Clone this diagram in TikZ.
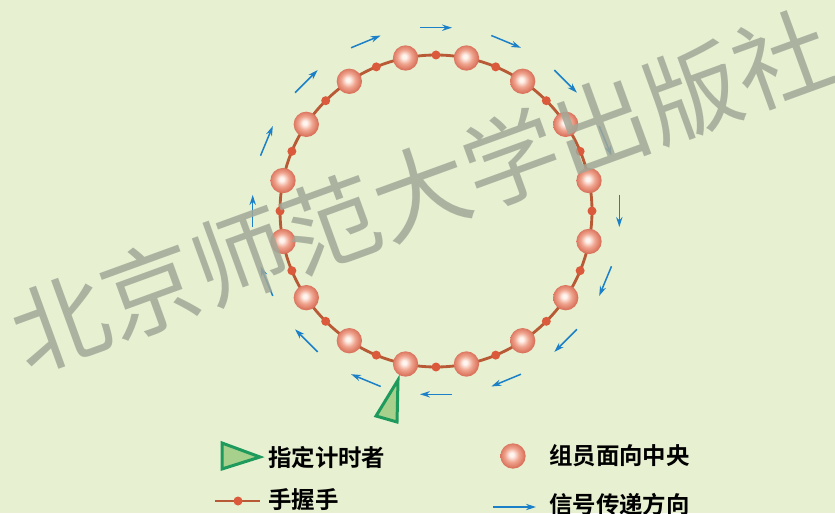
\documentclass[tikz,border=0pt]{standalone}
\usepackage{fontspec}
\newfontfamily\cjk{Noto Sans CJK SC}
\newfontfamily\cjkbf{Noto Sans CJK SC Bold}
\usepackage{tikz}
\usetikzlibrary{arrows.meta}
\usepackage{xcolor}

\definecolor{bgcol}{HTML}{E7F1D1}
\definecolor{ropecol}{HTML}{B85A35}
\definecolor{handcol}{HTML}{DB5A3C}
\definecolor{sphedge}{HTML}{D9705A}
\definecolor{sphmid}{HTML}{EFA48E}
\definecolor{sphhi}{HTML}{FFF4EE}
\definecolor{sigcol}{HTML}{1B80C8}
\definecolor{timerfill}{HTML}{A6D08C}
\definecolor{timerline}{HTML}{1E9A5C}
\definecolor{markcol}{HTML}{A2A898}

\pgfdeclareradialshading{pearl}{\pgfpoint{-3bp}{3bp}}{%
  color(0bp)=(sphhi); color(4bp)=(sphhi); color(14bp)=(sphmid);
  color(25bp)=(sphedge); color(50bp)=(sphedge)}

\begin{document}
\begin{tikzpicture}[x=0.3mm, y=0.3mm,
  every node/.style={font=\cjkbf\fontsize{20}{24}\selectfont},
  rope/.style={draw=ropecol, line width=0.85mm},
  member/.style={circle, inner sep=0pt, minimum size=7.6mm, shading=pearl},
  hand/.style={circle, inner sep=0pt, minimum size=2.7mm, fill=handcol},
  signal/.style={draw=sigcol, line width=0.45mm, -{Stealth[length=3mm, width=1.9mm]}},
  timer/.style={draw=timerline, fill=timerfill, line width=0.9mm, line join=miter}]
  \fill[bgcol] (0,0) rectangle (835,513);
  \useasboundingbox (0,0) rectangle (835,513);

  % the ring of members
  \begin{scope}[shift={(436,302)}]
    \coordinate (ctr) at (0,0);
    \draw[rope] (ctr) circle (156);
    \foreach \i in {1,...,16} {
      \node[hand] (h\i) at ({90-22.5*(\i-1)}:156) {};
      \node[member] (p\i) at ({101.25-22.5*(\i-1)}:156) {};
    }
    % signal passes clockwise
    \foreach \i in {1,...,16} {
      \coordinate (s\i a) at ({185-22.5*(\i-1)}:184);
      \coordinate (s\i b) at ({175-22.5*(\i-1)}:184);
      \draw[signal] (s\i a) -- (s\i b);
    }
  \end{scope}
  \draw[timer] (398,133) -- (376,97) -- (397,91) -- cycle;

  % legend
  \draw[timer] (222,70) -- (260,56) -- (222,44) -- cycle;
  \node[anchor=west] (ltimer) at (264,56) {指定计时者};
  \coordinate (lropea) at (215,12);
  \coordinate (lropeb) at (260,12);
  \draw[rope, line width=0.7mm] (lropea) -- (lropeb);
  \node[hand] (lhand) at (238,12) {};
  \node[anchor=west] (lrope) at (264,13) {手握手};
  \node[member] (lmember) at (513,57) {};
  \node[anchor=west] (lmem) at (545,57) {组员面向中央};
  \coordinate (lsiga) at (493,6);
  \coordinate (lsigb) at (536,6);
  \draw[signal] (lsiga) -- (lsigb);
  \node[anchor=west] (lsig) at (545,9) {信号传递方向};

  % watermark
  \node[rotate=20, text=markcol, opacity=0.85,
        font=\cjk\fontsize{82}{82}\selectfont] (mark) at (421,322) {北京师范大学出版社};
\end{tikzpicture}
\end{document}
